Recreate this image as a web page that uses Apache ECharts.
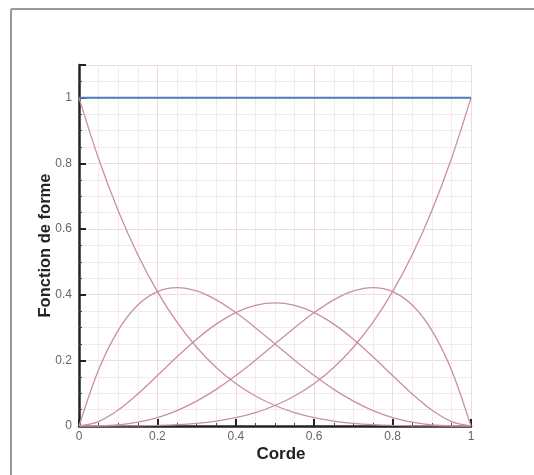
<!DOCTYPE html>
<html>
<head>
<meta charset="utf-8">
<script src="https://cdn.jsdelivr.net/npm/echarts@6/dist/echarts.min.js"></script>
<style>
  html, body { margin: 0; padding: 0; background: #fff; }
  #chart { width: 534px; height: 475px; }
</style>
</head>
<body>
<div id="chart"></div>
<script>
// abscisses (corde)
var corde = [0, 0.05, 0.1, 0.15, 0.2, 0.25, 0.3, 0.35, 0.4, 0.45, 0.5,
             0.55, 0.6, 0.65, 0.7, 0.75, 0.8, 0.85, 0.9, 0.95, 1];

// fonctions de forme
var f0 = [1, 0.8145, 0.6561, 0.522, 0.4096, 0.3164, 0.2401, 0.1785, 0.1296, 0.0915, 0.0625,
          0.041, 0.0256, 0.015, 0.0081, 0.0039, 0.0016, 0.0005, 0.0001, 0, 0];
var f1 = [0, 0.1715, 0.2916, 0.3685, 0.4096, 0.4219, 0.4116, 0.3845, 0.3456, 0.2995, 0.25,
          0.2005, 0.1536, 0.1115, 0.0756, 0.0469, 0.0256, 0.0115, 0.0036, 0.0005, 0];
var f2 = [0, 0.0135, 0.0486, 0.0975, 0.1536, 0.2109, 0.2646, 0.3105, 0.3456, 0.3675, 0.375,
          0.3675, 0.3456, 0.3105, 0.2646, 0.2109, 0.1536, 0.0975, 0.0486, 0.0135, 0];
var f3 = [0, 0.0005, 0.0036, 0.0115, 0.0256, 0.0469, 0.0756, 0.1115, 0.1536, 0.2005, 0.25,
          0.2995, 0.3456, 0.3845, 0.4116, 0.4219, 0.4096, 0.3685, 0.2916, 0.1715, 0];
var f4 = [0, 0, 0.0001, 0.0005, 0.0016, 0.0039, 0.0081, 0.015, 0.0256, 0.041, 0.0625,
          0.0915, 0.1296, 0.1785, 0.2401, 0.3164, 0.4096, 0.522, 0.6561, 0.8145, 1];
var somme = [1, 1, 1, 1, 1, 1, 1, 1, 1, 1, 1, 1, 1, 1, 1, 1, 1, 1, 1, 1, 1];

function pts(vals) {
  var out = [];
  for (var i = 0; i < corde.length; i++) out.push([corde[i], vals[i]]);
  return out;
}

var courbeColor = '#c8919c';
var courbes = [f0, f1, f2, f3, f4].map(function (v, i) {
  return {
    name: 'N' + i,
    type: 'line',
    data: pts(v),
    smooth: 0.3,
    showSymbol: false,
    lineStyle: { color: courbeColor, width: 1.3 },
    z: 3
  };
});

var chart = echarts.init(document.getElementById('chart'));
var option = {
  backgroundColor: '#fff',
  animation: false,
  grid: { left: 79, right: 63, top: 65, bottom: 49, containLabel: false },
  graphic: [
    { type: 'line', shape: { x1: 11, y1: 9, x2: 534, y2: 9 }, style: { stroke: '#9a9a9a', lineWidth: 2 } },
    { type: 'line', shape: { x1: 11, y1: 9, x2: 11, y2: 475 }, style: { stroke: '#9a9a9a', lineWidth: 2 } }
  ],
  xAxis: {
    type: 'value',
    min: 0, max: 1, interval: 0.2,
    name: 'Corde',
    nameLocation: 'middle',
    nameGap: 20,
    nameMoveOverlap: false,
    nameTextStyle: { fontFamily: 'Liberation Sans', fontWeight: 'bold', fontSize: 17, color: '#222', padding: [0, 0, 0, 12] },
    axisLine: { show: true, onZero: false, lineStyle: { color: '#222', width: 2.5 } },
    axisTick: { show: true, inside: true, length: 7, lineStyle: { color: '#222', width: 2 } },
    minorTick: { show: true, splitNumber: 4, length: 3, lineStyle: { color: '#444' } },
    axisLabel: { fontFamily: 'Liberation Sans', fontSize: 12, color: '#666', margin: 5 },
    splitLine: { show: true, lineStyle: { color: '#eedadf', width: 1 } },
    minorSplitLine: { show: true, lineStyle: { color: '#f5e9ec', width: 1 } }
  },
  yAxis: {
    type: 'value',
    min: 0, max: 1.1, interval: 0.2,
    name: 'Fonction de forme',
    nameLocation: 'middle',
    nameGap: 25,
    nameMoveOverlap: false,
    nameTextStyle: { fontFamily: 'Liberation Sans', fontWeight: 'bold', fontSize: 16.5, color: '#222' },
    axisLine: { show: true, onZero: false, lineStyle: { color: '#222', width: 2.5 } },
    axisTick: { show: true, inside: true, length: 7, lineStyle: { color: '#222', width: 2 } },
    minorTick: { show: true, splitNumber: 4, length: 3, lineStyle: { color: '#444' } },
    axisLabel: {
      fontFamily: 'Liberation Sans', fontSize: 12, color: '#666', margin: 7,
      showMaxLabel: false,
      formatter: function (v) { return v > 1.05 ? '' : String(+v.toFixed(2)); }
    },
    splitLine: { show: true, lineStyle: { color: '#eedadf', width: 1 } },
    minorSplitLine: { show: true, lineStyle: { color: '#f5e9ec', width: 1 } }
  },
  series: courbes.concat([{
    name: 'Somme',
    type: 'line',
    data: pts(somme),
    showSymbol: false,
    lineStyle: { color: '#4f80bd', width: 2 },
    z: 4
  }])
};
chart.setOption(option);
</script>
</body>
</html>
